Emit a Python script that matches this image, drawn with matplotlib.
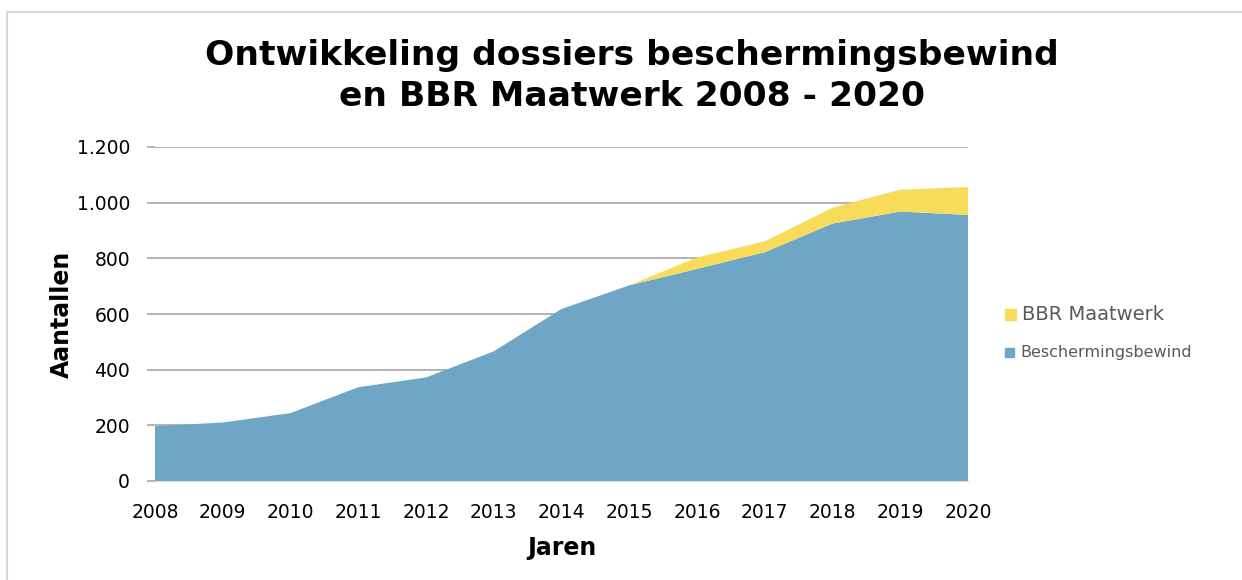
import matplotlib
matplotlib.use("Agg")
import matplotlib.pyplot as plt
from matplotlib.lines import Line2D
from matplotlib.ticker import FuncFormatter

years = [2008, 2009, 2010, 2011, 2012, 2013, 2014, 2015, 2016, 2017, 2018, 2019, 2020]
bewind = [197, 210, 244, 337, 372, 466, 618, 703, 762, 822, 925, 968, 956]
maatwerk = [0, 0, 0, 0, 0, 0, 0, 0, 41, 39, 57, 79, 100]
title = "Ontwikkeling dossiers beschermingsbewind\nen BBR Maatwerk 2008 - 2020"

blue = "#6fa6c6"
yellow = "#f7dc5b"

fig = plt.figure(figsize=(12.42, 5.8), dpi=100)
ax = fig.add_axes([155/1242, 1 - 481/580, (968-155)/1242, (481-147)/580])

ax.stackplot(years, bewind, maatwerk, colors=[blue, yellow], linewidth=0, zorder=2)
ax.set_xlim(2008, 2020)
ax.set_ylim(0, 1200)
ax.set_xticks(years)
ax.set_yticks(range(0, 1201, 200))
ax.yaxis.set_major_formatter(FuncFormatter(lambda v, p: f"{int(v):,}".replace(",", ".")))
ax.grid(axis="y", color="#a6a6a6", linewidth=1.2, zorder=0)
ax.set_axisbelow(True)
for s in ["top", "right", "left"]:
    ax.spines[s].set_visible(False)
ax.spines["bottom"].set_color("#d9d9d9")
ax.tick_params(axis="y", length=6, color="#a6a6a6", width=1.2, labelsize=13.5, pad=12)
ax.tick_params(axis="x", length=0, labelsize=13.5, pad=16)
ax.set_xlabel("Jaren", fontsize=17, fontweight="bold", labelpad=10)
ax.set_ylabel("Aantallen", fontsize=17, fontweight="bold", labelpad=2)

fig.text(632/1242, 1 - 76/580, title, ha="center", va="center", fontsize=24.8,
         fontweight="bold", linespacing=1.3)

# legend
fig.patches.append(plt.Rectangle((1005/1242, 1 - 320/580), 11/1242, 11/580,
                                 transform=fig.transFigure, color=yellow))
fig.text(1022/1242, 1 - 314/580, "BBR Maatwerk", fontsize=14, color="#595959", va="center")
fig.patches.append(plt.Rectangle((1005/1242, 1 - 357/580), 9/1242, 9/580,
                                 transform=fig.transFigure, color=blue))
fig.text(1020/1242, 1 - 352/580, "Beschermingsbewind", fontsize=11.5, color="#595959", va="center")

# chart border
fig.add_artist(Line2D([7/1242, 7/1242, 1.0], [0.0, 1 - 12/580, 1 - 12/580],
                      transform=fig.transFigure, color="#d9d9d9", linewidth=1.5))

fig.savefig("out.png", dpi=100)
